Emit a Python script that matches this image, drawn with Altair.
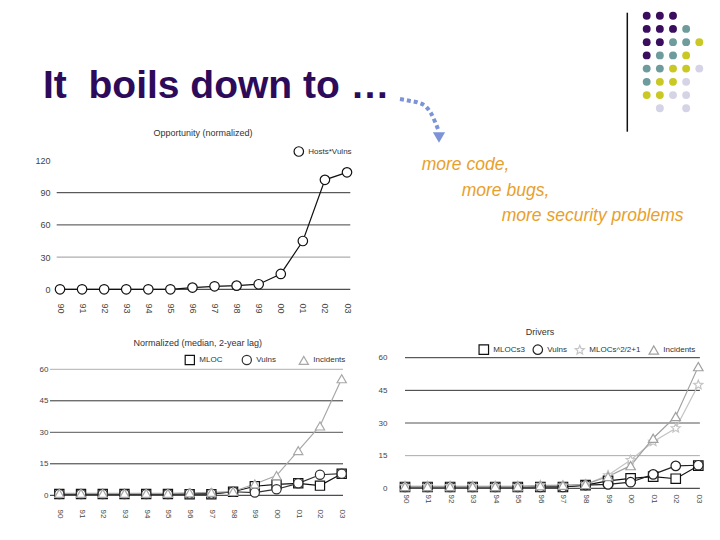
import json
import altair as alt
import pandas as pd

# ---------------- data ----------------
years = ["90", "91", "92", "93", "94", "95", "96", "97", "98", "99", "00", "01", "02", "03"]

# Chart 1: Opportunity (normalized)
opp_series = ["Hosts*Vulns"]
hosts_vulns = [0, 0, 0, 0, 0, 0, 1.6, 2.8, 3.4, 4.7, 14.3, 45, 102, 109]

# Chart 2: Normalized (median, 2-year lag)
norm_series = ["MLOC", "Vulns", "Incidents"]
n_mloc = [0.6, 0.6, 0.6, 0.6, 0.6, 0.6, 0.5, 0.5, 1.7, 4.3, 5.2, 5.7, 4.6, 10.3]
n_vulns = [0.6, 0.6, 0.6, 0.6, 0.6, 0.6, 0.8, 0.8, 1.7, 1.3, 2.9, 5.7, 9.8, 10.3]
n_incidents = [0.9, 0.9, 0.9, 0.9, 0.9, 0.9, 1.2, 1.4, 1.8, 5.4, 9.4, 21.3, 33, 55.5]

# Chart 3: Drivers
drv_series = ["MLOCs3", "Vulns", "MLOCs^2/2+1", "Incidents"]
d_mlocs3 = [0.6, 0.6, 0.6, 0.6, 0.6, 0.6, 0.6, 0.6, 1.5, 3.4, 4.6, 5.4, 4.4, 10.4]
d_vulns = [0.6, 0.6, 0.6, 0.6, 0.6, 0.6, 0.6, 0.6, 1.5, 1.8, 2.8, 6.4, 10.3, 10.6]
d_mlocs_sq = [1, 1, 1, 1, 1, 1, 1.4, 1.3, 1.8, 6, 13, 21.4, 27.6, 47.5]
d_incidents = [0.8, 0.8, 0.8, 0.8, 0.8, 0.8, 1.2, 1.4, 1.8, 5.4, 10.4, 23, 33, 55.9]

ticks_opp = [0, 30, 60, 90, 120]
ticks_norm = [0, 15, 30, 45, 60]

slide_title = "It\u00a0 boils down to \u2026"
bullets = ["more code,", "more bugs,", "more security problems"]
chart_titles = ["Opportunity (normalized)", "Normalized (median, 2-year lag)", "Drivers"]

# decorative dot pattern (P purple, T teal, Y yellow, L lavender)
dot_rows = ["PPP..", "PPPT.", "PPTTY", "PTTY.", "TTYYL", "TYYL.", "YYLL.", ".L.L."]

# ---------------- styles ----------------
FONT = "Liberation Sans"
STAR = ("M0,-1L0.2645,-0.364L0.951,-0.309L0.428,0.139L0.588,0.809L0,0.45"
        "L-0.588,0.809L-0.428,0.139L-0.951,-0.309L-0.2645,-0.364Z")
label_expr = json.dumps(years) + "[datum.value]"


def long_df(series, arrays):
    rows = []
    for s, arr in zip(series, arrays):
        for i, v in enumerate(arr):
            rows.append({"i": i, "series": s, "v": v})
    return pd.DataFrame(rows)


def make_chart(df, series, colors, shapes, xr, ydom, yr, ticks, grid_colors,
               gx0, gx1, y_off, x_off, lab_size, legend_xy, col_pad, grid_align, sym_size):
    def xs():
        return alt.Scale(domain=[0, 13], range=xr, nice=False, zero=False)

    def ys():
        return alt.Scale(domain=ydom, range=yr, nice=False, zero=False)

    x_axis = alt.Axis(values=list(range(14)), labelExpr=label_expr, labelAngle=90,
                      orient="bottom", offset=x_off, domain=False, ticks=False,
                      tickSize=0, labelPadding=0, grid=False, labelFontSize=lab_size,
                      labelColor="#444", labelFont=FONT, labelFlush=False,
                      labelOverlap=False, title=None)
    y_axis = alt.Axis(values=ticks, orient="left", offset=y_off, domain=False,
                      ticks=False, tickSize=0, labelPadding=0, grid=False,
                      labelFontSize=lab_size, labelColor="#444", labelFont=FONT,
                      labelOverlap=False, title=None)
    leg = alt.Legend(orient="none", legendX=legend_xy[0], legendY=legend_xy[1],
                     direction="horizontal", title=None, labelFontSize=8,
                     labelFont=FONT, labelColor="#333", symbolSize=sym_size,
                     symbolFillColor="white", symbolStrokeWidth=1.2, padding=0,
                     columnPadding=col_pad, labelOffset=4, gridAlign=grid_align)

    grid_df = pd.DataFrame({"v": ticks, "c": grid_colors})
    rules = alt.Chart(grid_df).mark_rule(strokeWidth=1).encode(
        y=alt.Y("v:Q", scale=ys(), axis=y_axis),
        x=alt.XDatum(gx0, scale=xs(), axis=None),
        x2=alt.X2Datum(gx1),
        color=alt.Color("c:N", scale=None, legend=None),
    )
    base = alt.Chart(df)
    lines = base.mark_line(strokeWidth=1.2).encode(
        x=alt.X("i:Q", scale=xs(), axis=x_axis),
        y=alt.Y("v:Q", scale=ys(), axis=None),
        stroke=alt.Stroke("series:N", scale=alt.Scale(domain=series, range=colors), legend=None),
        detail="series:N",
    )
    points = base.mark_point(filled=True, fill="white", size=sym_size, strokeWidth=1.2,
                             opacity=1).encode(
        x=alt.X("i:Q", scale=xs(), axis=None),
        y=alt.Y("v:Q", scale=ys(), axis=None),
        stroke=alt.Stroke("series:N", scale=alt.Scale(domain=series, range=colors), legend=leg),
        shape=alt.Shape("series:N", scale=alt.Scale(domain=series, range=shapes), legend=leg),
    )
    return [rules, lines, points]


c1 = make_chart(long_df(opp_series, [hosts_vulns]), opp_series, ["#111111"], ["circle"],
                [52, 339], [0, 120], [281.3, 152.5], ticks_opp,
                ["#222222", "#999999", "#444444", "#333333", "#ffffff"],
                -0.15, 13.15, -42, -229, 9, [285.3, 138], 10, "each", 90)

c2 = make_chart(long_df(norm_series, [n_mloc, n_vulns, n_incidents]), norm_series,
                ["#111111", "#333333", "#a8a8a8"], ["square", "circle", "triangle-up"],
                [51.3, 333.7], [0, 60], [487.3, 361.3], ticks_norm,
                ["#222222", "#333333", "#555555", "#333333", "#b0b0b0"],
                -0.43, 13.06, -40, -23, 8, [176.3, 346.3], 7, "all", 85)

c3 = make_chart(long_df(drv_series, [d_mlocs3, d_vulns, d_mlocs_sq, d_incidents]), drv_series,
                ["#111111", "#222222", "#c4c4c4", "#a0a0a0"],
                ["square", "circle", STAR, "triangle-up"],
                [397, 690.3], [0, 60], [480.3, 349.7], ticks_norm,
                ["#222222", "#aaaaaa", "#555555", "#333333", "#333333"],
                0, 13.07, -379, -38, 8, [470.3, 336], 5, "each", 90)

# ---------------- slide decorations (slide pixel coordinates) ----------------
def sx():
    return alt.Scale(domain=[0, 720], range=[-8, 712], nice=False, zero=False)


def sy():
    return alt.Scale(domain=[0, 540], range=[-8, 532], nice=False, zero=False)


one = pd.DataFrame({"k": [0]})

title_mark = alt.Chart(one).mark_text(
    text=slide_title, font=FONT, fontSize=39, fontWeight="bold", color="#2e0b5a",
    align="left", baseline="alphabetic").encode(
    x=alt.XDatum(43, scale=sx(), axis=None), y=alt.YDatum(98.3, scale=sy(), axis=None))

bullet_df = pd.DataFrame({"t": bullets, "x": [421.7, 461.7, 501.7], "y": [170, 195.7, 221]})
bullet_mark = alt.Chart(bullet_df).mark_text(
    font=FONT, fontSize=17.5, fontStyle="italic", color="#e8a02c",
    align="left", baseline="alphabetic").encode(
    x=alt.X("x:Q", scale=sx(), axis=None), y=alt.Y("y:Q", scale=sy(), axis=None), text="t:N")

ct_df = pd.DataFrame({"t": chart_titles, "x": [203, 197.7, 540], "y": [132.7, 342.7, 331.7]})
ct_mark = alt.Chart(ct_df).mark_text(
    font=FONT, fontSize=9, color="#333333", align="center", baseline="middle").encode(
    x=alt.X("x:Q", scale=sx(), axis=None), y=alt.Y("y:Q", scale=sy(), axis=None), text="t:N")

arrow_x = [400, 409.3, 418.3, 426, 431, 435, 438.3]
arrow_y = [99, 100.7, 102.7, 106.7, 113.3, 121.7, 130]
arrow_df = pd.DataFrame({"x": arrow_x, "y": arrow_y, "o": list(range(len(arrow_x)))})
arrow_line = alt.Chart(arrow_df).mark_line(
    color="#7d93d8", strokeWidth=4, strokeDash=[4, 3], interpolate="monotone").encode(
    x=alt.X("x:Q", scale=sx(), axis=None), y=alt.Y("y:Q", scale=sy(), axis=None),
    order="o:Q")
arrow_head = alt.Chart(one).mark_point(
    shape="triangle-down", filled=True, size=150, color="#7d93d8", opacity=1).encode(
    x=alt.XDatum(439, scale=sx(), axis=None), y=alt.YDatum(137.5, scale=sy(), axis=None))

vline = alt.Chart(one).mark_rule(color="#111111", strokeWidth=1.5).encode(
    x=alt.XDatum(627.3, scale=sx(), axis=None),
    y=alt.YDatum(12.7, scale=sy(), axis=None), y2=alt.Y2Datum(131.7))

dot_recs = []
for r, row in enumerate(dot_rows):
    for c, ch in enumerate(row):
        if ch != ".":
            dot_recs.append({"row": r, "col": c, "k": ch})
dots = alt.Chart(pd.DataFrame(dot_recs)).mark_circle(size=62, opacity=1).encode(
    x=alt.X("col:Q", scale=alt.Scale(domain=[0, 4], range=[638.7, 691.3], nice=False, zero=False), axis=None),
    y=alt.Y("row:Q", scale=alt.Scale(domain=[0, 7], range=[7.7, 100.3], nice=False, zero=False), axis=None),
    color=alt.Color("k:N", scale=alt.Scale(domain=["P", "T", "Y", "L"],
                                           range=["#3a0d5f", "#6e9b9c", "#c9c824", "#d4d4e6"]),
                    legend=None),
)

layers = c1 + c2 + c3 + [title_mark, bullet_mark, ct_mark, arrow_line, arrow_head, vline, dots]

chart = alt.layer(*layers).resolve_scale(
    x="independent", y="independent", color="independent",
    stroke="independent", shape="independent",
).resolve_axis(x="independent", y="independent").resolve_legend(
    stroke="independent", shape="independent", color="independent",
).properties(
    width=704, height=524, padding=0,
    autosize=alt.AutoSizeParams(type="none"),
    background="white",
).configure_view(stroke=None)

chart.save("out.html", embed_options={"renderer": "svg", "actions": False})
